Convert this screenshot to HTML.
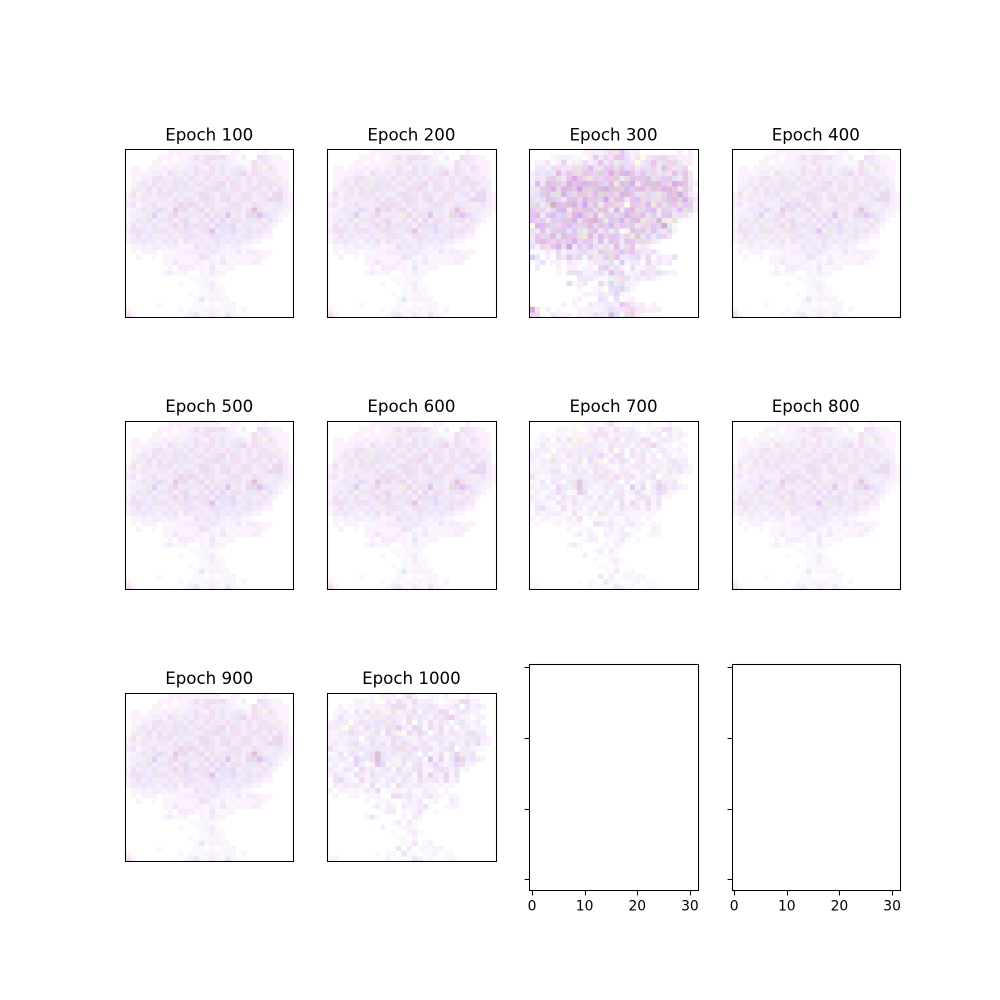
<!DOCTYPE html>
<html lang="en">
<head>
<meta charset="utf-8">
<title>Generated images by epoch</title>
<style>
html,body{margin:0;padding:0;background:#fff;}
svg{display:block;}
text{font-family:"DejaVu Sans","Liberation Sans",sans-serif;fill:#000;}
</style>
</head>
<body>
<svg id="figure" xmlns="http://www.w3.org/2000/svg" width="1000" height="1000" viewBox="0 0 1000 1000"></svg>
<script>
const epochs = [100, 200, 300, 400, 500, 600, 700, 800, 900, 1000];
const panelGridKey = ['soft', 'soft', 'strong', 'soft', 'soft', 'soft', 'light', 'soft', 'soft', 'light'];
const panelStrength = [1, 1, 1.25, 0.95, 1, 1, 0.9, 0.9, 1, 1.05];
const blankTicks = [0, 10, 20, 30];

const gridSoft = [
"fff fff fff fff fff fff fff fff fef fef fef fef fef fef fef fee fee fef fff fff fef fef fff fff fff fff fef fff fff fff fff fff",
"fff fff fff fff fff fff fef fef fef fff fef fef eef ede eef ede ede def ede eef fef fff eef fff fff ede def eef fef fef fff fff",
"fff fff fff fff fff fef fee fff fef eff fef fee eef eef eef ede eee eef eef eef fef eff eff eff ede eef def eef fef fef fef fff",
"fff fef fef fff fef fef fef eef fef eef fef eef eef ede eef fef ede eef def eef eef def eef fef ede eee fee ede eef fef fef fff",
"fff fef fef fef fef eef eef fef ede eee eee def eef ede eee def ede eef dee eef def ede dde eef ede def eef eef eef fef fef fff",
"fff fef fef eef eef dee ede eee eef def def eef ede eee eef ede eee def eef ede eee def eef ede eee def ede eee eef eee fef fff",
"fff fef eef dee eef ede eee def eee ede dee ede eef dee ede eef def ede dde eef ede dee eef ede eef ede dee ede def eef eef fff",
"fff eef eee eef ede eef ede eee dee ede def dee dee eef eee ede ede dde def eef ede ede eef def ede dee eef ede eef ede eef fff",
"fef ede fee eee def eef ede def ede eef dee eef eef dee ddf ede def eef ede def eee eef ede ede eef def ede eef dde dde eef fef",
"fef eef eef def eef eef eed def eef ede eef ede dee eef ede ddf ede eef ede dde eef def ede dee eef eef def dde ddf dde eef fef",
"eef def fef eef eee ede eef eef eef def dde ede ddf ede eef ede dee eef eef def ede ede eef eee ede def eee eef eee def eef fef",
"eff fef eef dee eef def ddf def eef dcd ede ddf eee ede dde eef ede eee def ede def dee eef ede ccd ede eee eef def eef fee fef",
"fef eef eef eef def cde eef eee ede dde eee eee def eee eed dde eee ede def cce eee def eef ddd dde ccf ddf def eef fef fef fff",
"fef eef def eee ede eef dee def ede eef ede dde eef eef ede eef ddf eef dde eef ede ede eef def dee ede eef ede eef fef fff fff",
"fef ede eef def eef ede eef eee def dde eee ddf def ede def ede eef ddf dee ede ddf eef def dee eef eef ede eef fef fff fff fff",
"eef ede ede def eef dee ede ede eef eee ede ede def eef def ede ccf eef dee def ddf def eee ede def ede eef eef fff fff fff fff",
"fef eef ede eef def eef eee eef def eef eee def ede dee eef eef ede ede def eef def eef def ede eef eef fef fef fff fff fff fff",
"fef eee eef def eef eef fee def eef ede fee ede eef eef def eef eef ede eef def eef def eef eef fef fef fff fff fff fff fff fff",
"fff fef fef eef fef eef eef fef eef eef fef fef fef ede eef def eef def eef fef eef eef fef fef fff fff fff fff fff fff fff fff",
"fff fef fff fef fef fef fff eff eff fef fef eef eef eef eef eef def eef fef fef fef def fef eef eef fef fef fef fff fff fff fff",
"fff fff fef fff fff eff fff fef fef fef fef fef fef fef ede def fef eff eef eff fef eff fef fef fee eef fef fff fff fff fff fff",
"fff fff fff fff fff fff fff fef fef def fef fef fef eef fef eff eef fef def fef eff fef fef fef eef fef fff fff fff fff fff fff",
"fff fff fff fff fff fff fff fff fef fff eef eef eef fef fef eff def eff eff fef fef fff fff fff fff fff fff fff fff fff fff fff",
"fff fff fff fff fff fff fff fef eef eff fef fef fff fff fef eff eef fef fef fff fff fff fff fff fff fff fff fff fff fff fff fff",
"fff fff fff fff fff fff fff fff fff fff fff fff eff eff eff fef eff eff fff fff fff fff fff fff fff fff fff fff fff fff fff fff",
"fff fff fff fff fff fff fff fff fff fff eff fff fff eff eff fef eef eff fff fff fff fff fff fff fff fff fff fff fff fff fff fff",
"fff fff fff fff fff fff fff fff fff fff fff fff fff fff eff eff eef eff eff fff fff fff fff fff fff fff fff fff fff fff fff fff",
"fff fff fff fff fff fff fff fff fff fff fff fff eff fff eff eff fef fef eff fff fff fff fff fff fff fff fff fff fff fff fff fff",
"fff fff fff fff fff fff fff fff fff fff fff fff fff eff def eff fef fef fef fef fff fff fff fff fff fff fff fff fff fff fff fff",
"ffe fff fff fff fff fff eff fff fff fff fff fff fff eff eff fff eff fff eff eff fef fff fff fff fff fff fff fff fff fff fff fff",
"fef ffe ffe fff fff fff fff fff fff fff eff fff eff eff eff fef fef fef eff fef eff fff fef fff fff fff fff fff fff fff fff fff",
"ede fef fff fff fff fff fff fff fff eff fff fef eef def fef eff eef fef eff def fef eff fff fff fff fff fff fff fff fff fff fff"
];

const gridStrong = [
"fff fff fff fff fff fff fff fff fff fff fef fee fef fef eef fde eee ecf eef fef fef fff fff fff fff fff fff fff fef fff fef fff",
"fff fff fff fff eff fef fef fef eff eff ffe fef ddf eef ede fdf ece ecf def fef eee ffd eef fde dee ede eef eef fef fee fef fff",
"fff fef fef eef fff fef ede eff fee fee def fef eef ece eef ede eee dee def eef ffd eef def ece eef dee ede ede eee fef fee fff",
"fff eef eef fef def fde eef eef ded dee ede dcf def eee ece dde dee ece def ede eef dee def ede eef cde ede eee def ede ffe fff",
"fef def eef def eef dce def ece ede ded ece ddd ede ddd ddf fae dde dcd cce ece def ece dee ede eee dee fde ecd def ece eef fff",
"fef eee eef ede dde dee eef ece dbe ece ede eed ddf ede ecf ece ddd eef ede cdd ece dde cde dee ede ddf ece dee eef ddd eef fff",
"fef dcf eef dcd cde dde ede dbe cde dce ccf dce dce ddd cef dce eed dcd cde dbe eee ece dce cdd dce dde ede dbe dcd ece eee fee",
"eef eee ddd cde dbe ede cce dcd ece cbe ddd ddd cde bde dbd cde ecd dde bde ddf dcd dce ede cdd ece cce dcd ecd eef ddd def fff",
"eef def dde cde dee ded cce ddf ede ecd ddd ede dcf ced ddd ecf ede cce dcd ece def dee cee def eed ede dce ecd bcd ddf eef fef",
"def eef dee cde ecf cee eef cdd dce ede cce ece ddd ddf cbe ede ecd cde eef ece dcf ede cee dee def dde cde dce ddf ccd ede eef",
"ded cee eef ded bcb dce ecd dce ccd ddf cbf ede cde eed ece ddd ede ede ffd ece ddf ede dce eed ece dee dde ece ded ecf dde fef",
"ddf ede ede eee ede dce ccf eee ece ddd cdd cde ede ecd cde eef cce eee dcf dcd ede cee cdf dce eee dde cee def dcf ded cee fee",
"ece dcd eef ece dcf cef ddf ede ebe bcf ecf ede dcd eee ddd dde ede ddf ccf ece dde dce def dde eef ecf cde eee def fde fef fff",
"ecf ede ddf eee dde ddf ecd cde ccd dee ecd dcd ccc cdf eed cdf dde cce ede cde dcd eed ede ede ccd eee fee ded eff fff fff fff",
"ffd ebe dcf dde cef ede ecf dcf ddf edc ddf dcd ede ecd ddf bde ede ecf ddf ddd eee ede ede ecf ddf bcd cfe eff fff fff fff fff",
"def eef cde eee dde ece cde def cdf dee eef ddd dcf eee ddf eef cee fff fee cde dde ece def cde def eef ede fef fff fff fff fff",
"eee ecf ede cee dcd def dcd ece ece ded eed dcd def dce ede ece ecf def ede eed ecd eee ddf eef cef ede eef fff fff fff fff fff",
"eef ece dce ecf ede ece cef ecf cce ede ecf dde eee dce eef ecd dde eee cde ecf dee ede ded eef fef fff fff fff fff fff fff fff",
"def fef ede fde ece cce ded cbe eef ddf def cdf def eee dee eef dce eef ded ece fef eef fef fff fff fff fff fff fff fff fff fff",
"fff eff eff eef eff ede fef eef eef def ede eef eef ddd ede dee ede cdf ede ecf dee eef eef def eff fff fff fff fff fff fff fff",
"bef eef fff fef fff def eef ece def ede eff ede eee eee dde ded ece eef eef def ede fef ede fff eef fef fef def fff fff fff fff",
"fff fef def fff fef fef fff eef fef eff fff fef eef eef eef dee eff bef fef eef eef fff ede fef eef fef eef fff fff fff fff fff",
"fff eef fff fff fff fef fff fef fef fff eff fef fff ede dde eef def fef fff def eff fef eef eef eff fff fff fff fff fff fff fff",
"fff fff fff fff fff fef fff def cfe def fef fef eef def fef cde def ede eff fef fef ede eef eef def eef fef fef fff fff fff fff",
"fff fff fff fff fff fff fff fff fff eef eef eef fef eff eff dfe eef fde def fef eef fef eef fef eff fff fff fff fff fff fff fff",
"fff fff fff fff fff fff fff ede eff fef eef fff fff ede fee cef eef def fef fef eff fff fff fff fff fff fff fff fff fff fff fff",
"fff fff fff fff fff fff fff fff fff fef fff fff eff fef ffe def dee cef eef eff fff fff fff fff fff fff fff fff fff fff fff fff",
"fff fff fff fff fff fff fff fff fff fff fef fef fef eef fee eef cef fef eff fff fff fff fff fff fff fff fff fff fff fff fff fff",
"fff fff fff fff fff fff fff fff eff fef fff fff fff def eef fff def ffe eff fef fff fff fff fff fff fff fff fff fff fff fff fff",
"ffe fff fff fff fff fff fef fff fef fff fff eef fef fef eef eef fef ecf ede eef fef fee fff fef fff fff fff fff fff fff fff fff",
"bcd eef ffd fef fff eff fff fff fff fef fef fef eff fef eef def eef eef fde ede eef dff fef fef fef fff fff fff fff fff fff fff",
"ede ede eff fff eef fef fef fef fff fef eff fee def eef fee bde def eff dee ede fef eff fff fff fff fff fff fff fff fff fff fff"
];

const gridLight = [
"fff fff fff fff fff fff fff fff eff ffe fef fef fef fff fef ede fef fff fff eff eff fff fef fff fff fff fef fff fff fff fff fff",
"fff fff fff fff fff fef fee eff fef ffe ffe eef fef ede eef fef ede fee eef eef eff fff eff fef fee ede cef fee fef fff fff fff",
"fff fff fef fff eff fef fef eff fee fef fef eef ede ede ede fef eee eef eef def eef eff fef eef def fff def fef eef fef fff fff",
"fff eff fef eef fff def fef ede fee eed fee fee dee fef eef eee ede eff def eee eef ddf ede fff eef def eef fef fef fff fff fff",
"fff fef def fef fef fef eef fef eee eee eef def eee eef fee ede eef def eef fef def eef ede ece eef fef fee fff fef fef fff fff",
"fef eef eef eee ffe eef def eee eef def def eed def eef eff ede ffe def eff ede fee def eef eff eee def fef fef eef fff fff fff",
"eef eef fef ffd eee eef fef ede eef def eef ede def ece eef fef ddf ede eff ede eef ede eff eef fff eee eef eff fef fef fff fff",
"fef fef eef eef ede eee eef fef eee ede eff ddf eee fee ffe ede eef dde def fff eef ede fef fde eef fef def ede eef eef fff fff",
"fef fef eef fef eef eef fff eee def eef fef eef ede def eef fef fef def fef eef def eee eef fef eee eef eee def dee eef fef fff",
"fef eef fee eef def ede fef fee ede eef dee fef ede eef ede fde fef eed def fef fee def fef def eef fee ede eef ede fef fef fff",
"ede fef eff fef eef eee def eef eee def eef eef def ede dee eee fcf eee def ede fef eef def ede fff eef eee fef eff eff fff fff",
"eff fef def eff def eef eff def ede ccd dee eef def eef eee ded eef fff def eff eef dee eff eef ddd eef eef def ffd fff fff fff",
"eef fef eef eef eff ecf def eef ede ccd def eef fef fee ede eef eef def eff ccf fee ecf eff def dce dde eef def eef fef fff fff",
"eff eef eff fef eef ddf eef eff fef dce ddf eff eef fee def eff def ede fef eef ddf eef fef eef ddf ede fef fef fff fff fff fff",
"eef fef eff def eef eff ede eef def fef eef def eff ede fef eef dee ede fef eff def ede def fef dee eff fef fff fff fff fff fff",
"fef fdf eef fef eff ede eef fef ede eef eef fef eef eef eee def eff dde fef ece eef fef dde fef ede fff fff fff fff fff fff fff",
"fff def cee eef fef eff ede fef eef eee eff eef def fef dee eef fef ede eef eef def fef ede fef eef fff fff fff fff fff fff fff",
"fff eef fef eef eef eef fef eff ede eff fef eef ffe ded eef fef eef eef fef fef eff fef eff fef fff fff fff fff fff fff fff fff",
"fef fff fef fef eff fef eff eef fef ede fff eff fef fef eff eef eff eff eef fef fef fff fef fff fff fff fff fff fff fff fff fff",
"fff fef fff fff eff fef fff eff fef fef fff fff ede ede eef def fef eff eef def fef fef fff fef eff fff fff fff fff fff fff fff",
"fff fff fff fff fff fff fff fef fff eff eff fef fff fff fef eef fef fdf fff eff fef fff fff eef fef fff fff fff fff fff fff fff",
"fff fff fff fff fff fff fff fff eff eef fff eef fef fff eef fef fef eef def eff fff fff eff fef fef fff fff fff fff fff fff fff",
"fff fff fff fff fff fff fff fff fff fff eff eef eef fff eff eff fef def eff fff eff fff fff fff fff fff fff fff fff fff fff fff",
"fff fff fff fff fff fff fff fef def eff fff fff fff fff fef fff eef fef fff fff fff fff fff fff fff fff fff fff fff fff fff fff",
"fff fff fff fff fff fff fff fff fff fff fff fff eff eef fff eef eff fff fff fff fff fff fff fff fff fff fff fff fff fff fff fff",
"fff fff fff fff fff fff fff fff fff fff eef fff fff eff eff fef eff fff fff fff fff fff fff fff fff fff fff fff fff fff fff fff",
"fff fff fff fff fff fff fff fff fff fff fff fff eff fff fff fef eef eff fff fff fff fff fff fff fff fff fff fff fff fff fff fff",
"fff fff fff fff fff fff fff fff fff fff fff fff fff eff eff fff fef fff fff fff fff fff fff fff fff fff fff fff fff fff fff fff",
"fff fff fff fff fff fff fff fff fff fff fff fff fff fff eff eff fdf fff eff fef fff fff fff fff fff fff fff fff fff fff fff fff",
"fff fff fff fff fff fff fff fff fff fff fff fff fff def fff eef fff eff fef eff fef fef fff fff fff fff fff fff fff fff fff fff",
"ffe ffd fff fff fff fff fff fff fff eff fff eff eff fff def eff eff fff eff eff fef fff eff eff fff fff fff fff fff fff fff fff",
"fef fef fff fff fff fff fff fff fff fff fff fef fff eff eff eff def eef eff fef fff fff eff fef eff fff fff fff fff fff fff fff"
];

const grids = { soft: gridSoft, strong: gridStrong, light: gridLight };

const NS = 'http://www.w3.org/2000/svg';
const svg = document.getElementById('figure');
const axW = 168.48;
const colLefts = [125, 327.17, 529.35, 731.52];
const slotTops = [120, 391.76, 663.53];
const slotH = 226.47;
const gridN = 32;
const snap = v => Math.round(v) + 0.5;
const xOf = (left, w, v) => left + (v + 0.5) / gridN * w;
const yOf = (top, h, v) => top + (v + 0.5) / gridN * h;

function el(tag, attrs, parent) {
  const n = document.createElementNS(NS, tag);
  for (const k in attrs) n.setAttribute(k, attrs[k]);
  parent.appendChild(n);
  return n;
}

function cellColor(hex3, strength) {
  const d = [0, 1, 2].map(i => 255 - parseInt(hex3[i] + hex3[i], 16));
  const dr = 0.45 * d[0] + 0.2 * d[1];
  const dg = 0.35 * d[0] + 0.8 * d[1];
  const db = 0.1 * (d[0] + d[1]) + 0.6 * d[2];
  const out = [dr, dg, db].map(v => Math.max(0, Math.min(255, Math.round(255 - v * strength))));
  return 'rgb(' + out.join(',') + ')';
}

function drawFrame(parent, left, top, w, h) {
  const x0 = snap(left), x1 = snap(left + w), y0 = snap(top), y1 = snap(top + h);
  const frame = el('rect', { x: x0, y: y0, width: x1 - x0, height: y1 - y0, fill: 'none', stroke: '#000', 'stroke-width': 1.05 }, parent);
  
  
}

epochs.forEach((epoch, idx) => {
  const col = idx % 4;
  const row = Math.floor(idx / 4);
  const left = colLefts[col];
  const top = slotTops[row] + (slotH - axW) / 2;
  const g = el('g', {}, svg);
  
  
  const gridRows = grids[panelGridKey[idx]];
  const imgLeft = snap(left), imgTop = snap(top);
  const imgW = snap(left + axW) - imgLeft, imgH = snap(top + axW) - imgTop;
  const image = el('g', { 'shape-rendering': 'crispEdges' }, g);
  
  
  gridRows.forEach((line, r) => {
    line.split(' ').forEach((hex, c) => {
      if (hex === 'fff') return;
      const x0 = xOf(imgLeft, imgW, c - 0.5), x1 = xOf(imgLeft, imgW, c + 0.5);
      const y0 = yOf(imgTop, imgH, r - 0.5), y1 = yOf(imgTop, imgH, r + 0.5);
      const cell = el('rect', { x: x0.toFixed(2), y: y0.toFixed(2), width: (x1 - x0).toFixed(2), height: (y1 - y0).toFixed(2), fill: cellColor(hex, panelStrength[idx]) }, image);
      
      
    });
  });
  drawFrame(g, left, top, axW, axW);
  const title = el('text', { x: left + axW / 2, y: top - 8.6, 'text-anchor': 'middle', 'font-size': 16.67 }, g);
  title.textContent = 'Epoch ' + epoch;
  
  
});

[2, 3].forEach(col => {
  const left = colLefts[col];
  const top = slotTops[2];
  const g = el('g', {}, svg);
  
  
  drawFrame(g, left, top, axW, slotH);
  const bottom = snap(top + slotH);
  const leftLine = snap(left);
  blankTicks.forEach(v => {
    const x = snap(xOf(left, axW, v));
    const xt = el('line', { x1: x, x2: x, y1: bottom, y2: bottom + 4.9, stroke: '#000', 'stroke-width': 1.05 }, g);
    
    
    const lab = el('text', { x: xOf(left, axW, v), y: bottom + 20.2, 'text-anchor': 'middle', 'font-size': 13.89 }, g);
    lab.textContent = v;
    
    
    const y = snap(yOf(top, slotH, v));
    const yt = el('line', { x1: leftLine - 4.9, x2: leftLine, y1: y, y2: y, stroke: '#000', 'stroke-width': 1.05 }, g);
    
    
  });
});
</script>
</body>
</html>
